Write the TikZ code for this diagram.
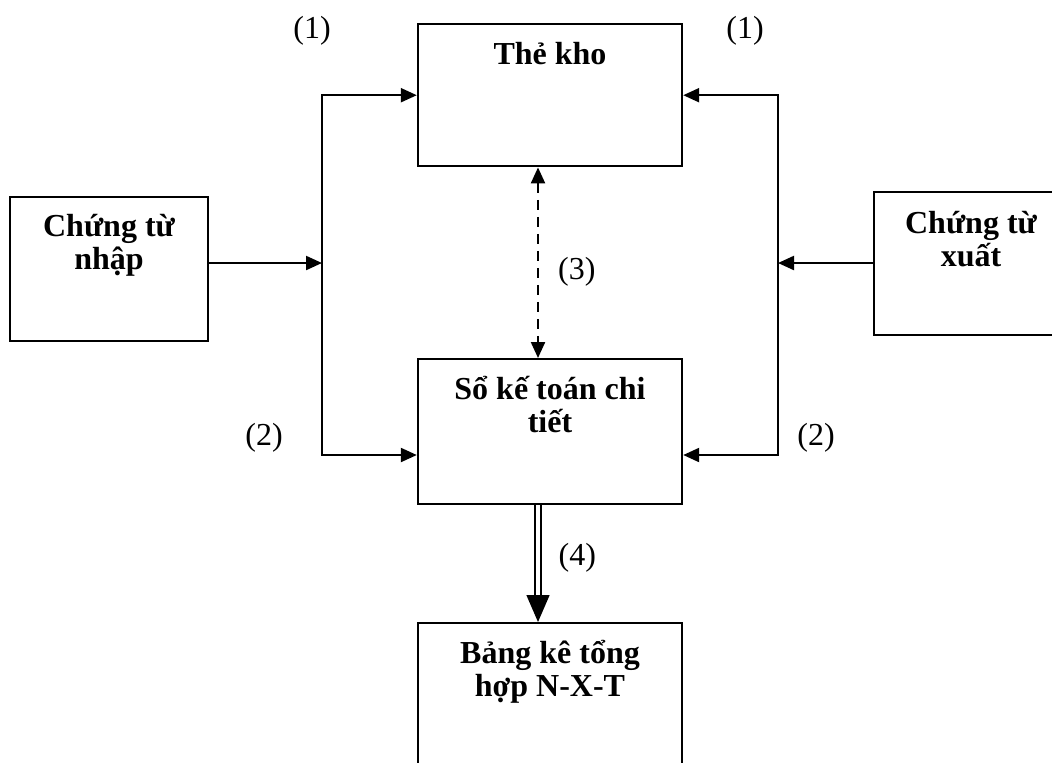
\documentclass[tikz,border=0pt]{standalone}
\usepackage{fontspec}
\setmainfont{Liberation Serif}
\usetikzlibrary{arrows.meta, positioning, calc}
\tikzset{
    hop/.style={
        draw,
        line width=1.2pt,
        inner sep=0pt,
        align=center,
        font=\bfseries,
        anchor=north,
    },
    pil/.style={
        -{Triangle[length=8pt,width=7pt]},
        line width=1.1pt,
    },
    nhan/.style={
        inner sep=0pt,
    },
}

\begin{document}
\fontsize{16}{16.5}\selectfont
\begin{tikzpicture}[x=0.5pt,y=-0.5pt]
      \useasboundingbox (0,0) rectangle (1052,762);
      \clip (0,0) rectangle (1052,762);

      % text height = first baseline + one line for two-line boxes
      \node [hop, minimum width=132pt, text height=20pt, text depth=51pt] (theKho) at (550,23) {Thẻ kho};
      \node [hop, minimum width=132pt, text height=36.5pt, text depth=36pt] (soKT) at (550,358) {Sổ kế toán chi\\ tiết};
      \node [hop, minimum width=132pt, text height=36.5pt, text depth=43.5pt] (bangKe) at (550,622) {Bảng kê tổng\\ hợp N-X-T};
      \node [hop, minimum width=99pt, text height=36pt, text depth=36pt] (nhap) at (109,196) {Chứng từ\\ nhập};
      \node [hop, minimum width=97pt, text height=37pt, text depth=34.5pt] (xuat) at (971,191) {Chứng từ\\ xuất};

      \coordinate (jL) at (322,263);
      \coordinate (jR) at (778,263);
      \coordinate (xm) at (538,300);

      % nhap -> the kho / so chi tiet
      \draw[pil] (nhap.east |- jL) -- (jL);
      \draw[pil] (jL) |- (theKho.west);
      \draw[pil] (jL) |- ($(soKT.north west)+(0,97)$);
      % xuat -> the kho / so chi tiet
      \draw[pil] (xuat.west |- jR) -- (jR);
      \draw[pil] (jR) |- (theKho.east);
      \draw[pil] (jR) |- ($(soKT.north east)+(0,97)$);

      \draw[{Triangle[length=8pt,width=7pt]}-{Triangle[length=8pt,width=7pt]}, line width=1.1pt, dash pattern=on 5pt off 3.5pt]
          (theKho.south -| xm) -- node[nhan, right, xshift=9.5pt, pos=0.55] {(3)} (soKT.north -| xm);
      \draw[-{Triangle[length=13.5pt,width=11.5pt]}, line width=0.7pt, double, double distance=2.3pt]
          (soKT.south -| xm) -- node[nhan, right, xshift=10pt, pos=0.45] {(4)} (bangKe.north -| xm);

      \node [nhan] (mot1) at (312,31) {(1)};
      \node [nhan] (mot2) at (745,31) {(1)};
      \node [nhan] (hai1) at (264,438) {(2)};
      \node [nhan] (hai2) at (816,438) {(2)};
\end{tikzpicture}
\end{document}
